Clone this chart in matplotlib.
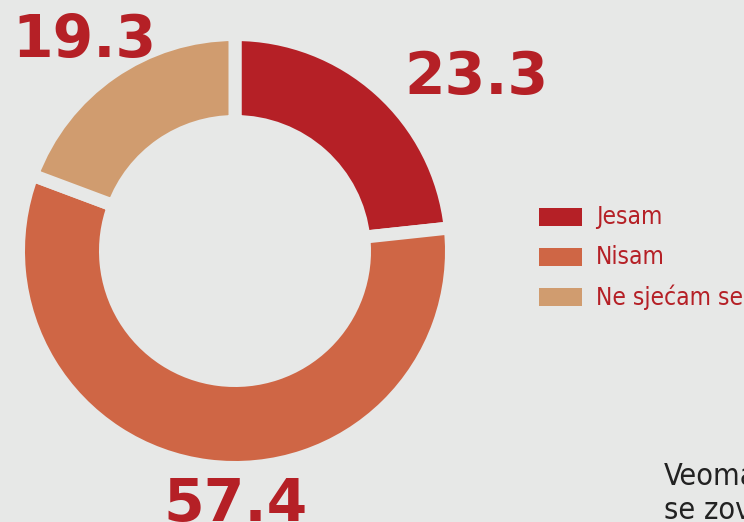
import matplotlib
matplotlib.use("Agg")
import matplotlib.pyplot as plt
from matplotlib.patches import Rectangle
from matplotlib import font_manager

# data
categories = ["Jesam", "Nisam", "Ne sjećam se"]
values = [23.3, 57.4, 19.3]
colors = ["#b52026", "#cf6645", "#d09c6f"]

bg = "#e7e8e7"
label_red = "#b52026"
W, H = 744, 522

fig = plt.figure(figsize=(W / 100, H / 100), dpi=100, facecolor=bg)
ax = fig.add_axes([0, 0, 1, 1])

# donut, center in pixel coords (y flipped)
cx, cy = 235, H - 251
gap = 13  # px
wedges, _ = ax.pie(values, colors=colors, startangle=90, counterclock=False,
                   center=(cx, cy), radius=210 + gap / 2, frame=True,
                   wedgeprops=dict(width=74 + gap, edgecolor=bg, linewidth=gap * 0.72))
ax.set_xlim(0, W)
ax.set_ylim(0, H)
ax.set_aspect("equal")
ax.axis("off")

# big value labels (Jesam, Nisam, Ne sjećam se)
label_pos = [(476, H - 94), (236, H - 521), (84, H - 57)]
for v, (x, y) in zip(values, label_pos):
    ax.text(x, y, f"{v:.1f}", ha="center", va="baseline", fontsize=42,
            fontweight="heavy", family="DejaVu Sans", color=label_red)

# narrow font for legend / paragraph
fp = font_manager.FontProperties(family="DejaVu Sans", stretch="condensed", size=17.6)

# legend
for i, (name, c) in enumerate(zip(categories, colors)):
    yc = H - (217 + 40 * i)
    ax.add_patch(Rectangle((539, yc - 9), 43, 18, facecolor=c, edgecolor="none"))
    ax.text(596, yc, name, ha="left", va="center", fontproperties=fp, color=label_red)

# paragraph cut off at the bottom right edge, as in the source
fp2 = fp.copy()
fp2.set_size(22)
ax.text(664, H - 462, "Veoma\nse zovu", ha="left", va="top", fontproperties=fp2,
        color="#222222", linespacing=1.2)

fig.savefig("out.png", dpi=100, facecolor=bg)
